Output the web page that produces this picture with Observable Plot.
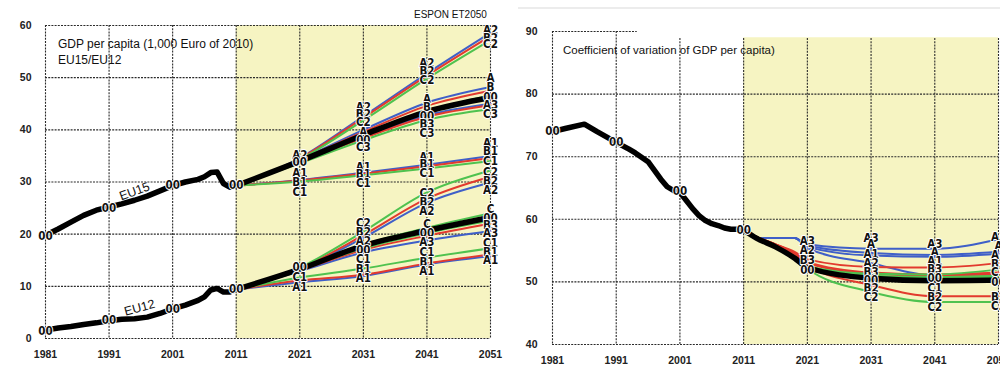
<!DOCTYPE html>
<html><head><meta charset="utf-8">
<script src="https://cdn.jsdelivr.net/npm/d3@7"></script>
<script src="https://cdn.jsdelivr.net/npm/@observablehq/plot@0.6"></script>
<style>
body{margin:0;background:#fff;overflow:hidden;font-family:"Liberation Sans",Arial,sans-serif}
#wrap{position:relative;width:1000px;height:367px;overflow:hidden;background:#fff}
#left,#right{position:absolute;top:0}
#left{left:0}#right{left:500px}
#left svg{overflow:visible}
.title{position:absolute;color:#111;white-space:nowrap}
</style></head><body>
<div id="wrap">
 <div id="left"></div><div id="right"></div>
 <div class="title" style="left:58px;top:36px;font-size:12px;line-height:16px">GDP per capita (1,000 Euro of 2010)<br>EU15/EU12</div>
 <div class="title" style="left:563px;top:44px;font-size:11.5px">Coefficient of variation of GDP per capita)</div>
 <div class="title" style="left:414px;top:9px;font-size:10px">ESPON ET2050</div>
 <div style="position:absolute;left:518px;top:7px;width:482px;height:2px;background:#ececec"></div>
</div>
<script>
// ---------- shared ----------
const decadeTicks = [1981, 1991, 2001, 2011, 2021, 2031, 2041, 2051];
const scenarioNames = ["A","B","C","A1","B1","C1","A2","B2","C2","A3","B3","C3"];

// ---------- left panel: GDP per capita ----------
const gdpTicks = [0, 10, 20, 30, 40, 50, 60];
const histYearsGdp = [1981,1983,1985,1987,1989,1991,1993,1995,1997,1999,2001,2003,2005,2006,2007,2008,2009,2010,2011];
const eu15Hist = [19.8,21.0,22.3,23.6,24.6,25.2,25.8,26.5,27.3,28.3,29.3,30.0,30.5,31.0,31.8,31.9,29.7,29.0,29.3];
const eu12Hist = [1.6,2.0,2.3,2.7,3.0,3.4,3.7,3.8,4.1,4.8,5.7,6.4,7.3,8.0,9.3,9.6,8.9,8.9,9.4];
const projYearsGdp = [2011, 2021, 2031, 2041, 2051];
const eu15Base = [29.3, 34.0, 39.0, 43.5, 46.2];
const eu12Base = [9.4, 13.3, 17.8, 20.7, 23.2];
// same order as scenarioNames
const eu15Proj = [
  [29.3, 34.3, 40.0, 45.2, 48.2], // A
  [29.3, 34.2, 39.6, 44.6, 47.5], // B
  [29.3, 34.0, 39.0, 43.6, 46.6], // C
  [29.3, 30.4, 31.8, 33.3, 35.0], // A1
  [29.3, 30.3, 31.6, 33.0, 34.6], // B1
  [29.3, 30.1, 31.3, 32.6, 34.0], // C1
  [29.3, 34.6, 42.6, 50.8, 58.6], // A2
  [29.3, 34.5, 42.3, 50.4, 58.0], // B2
  [29.3, 34.3, 41.8, 49.8, 57.2], // C2
  [29.3, 33.9, 38.6, 42.8, 45.0], // A3
  [29.3, 33.8, 38.4, 42.5, 44.7], // B3
  [29.3, 33.6, 38.0, 41.9, 44.0]  // C3
];
const eu12Proj = [
  [9.4, 13.2, 17.6, 20.5, 22.8], // A
  [9.4, 13.3, 17.8, 20.9, 23.5], // B
  [9.4, 13.4, 18.0, 21.2, 24.0], // C
  [9.4, 10.8, 12.0, 14.2, 15.8], // A1
  [9.4, 11.1, 12.2, 14.4, 16.1], // B1
  [9.4, 11.7, 13.4, 15.5, 17.3], // C1
  [9.4, 13.3, 19.3, 26.0, 29.9], // A2
  [9.4, 13.4, 19.8, 26.8, 31.0], // B2
  [9.4, 13.6, 20.5, 28.0, 32.2], // C2
  [9.4, 12.9, 16.5, 18.8, 20.6], // A3
  [9.4, 13.1, 17.0, 19.7, 22.0], // B3
  [9.4, 13.2, 17.3, 20.2, 22.6]  // C3
];
const gdpLabels = [
  [1981,"00",19.6],[1991,"00",25.0],[2001,"00",29.3],[2011,"00",29.3],
  [1981,"00",1.4],[1991,"00",3.4],[2001,"00",5.6],[2011,"00",9.4],
  [2021,"A2",35.1],[2021,"00",33.7],[2021,"A1",31.6],[2021,"B1",29.9],[2021,"C1",28.1],
  [2021,"00",13.6],[2021,"C1",11.7],[2021,"A1",9.8],
  [2031,"A2",44.3],[2031,"B2",43.0],[2031,"C2",41.5],[2031,"A",39.5],[2031,"00",38.0],[2031,"C3",36.6],
  [2031,"A1",32.8],[2031,"B1",31.4],[2031,"C1",29.8],
  [2031,"C2",22.0],[2031,"B2",20.4],[2031,"A2",18.7],[2031,"00",16.9],[2031,"C1",15.1],[2031,"B1",13.3],[2031,"A1",11.5],
  [2041,"A2",52.7],[2041,"B2",51.2],[2041,"C2",49.5],[2041,"A",45.9],[2041,"B",44.3],[2041,"00",42.6],[2041,"B3",41.0],[2041,"C3",39.4],
  [2041,"A1",34.8],[2041,"B1",33.4],[2041,"C1",31.7],
  [2041,"C2",27.8],[2041,"B2",26.1],[2041,"A2",24.3],[2041,"C",21.8],[2041,"00",20.2],[2041,"A3",18.5],[2041,"C1",16.6],[2041,"B1",14.7],[2041,"A1",12.8],
  [2051,"A2",59.0],[2051,"B2",57.6],[2051,"C2",56.3],[2051,"A",49.8],[2051,"B",48.1],[2051,"00",46.3],[2051,"A3",44.7],[2051,"C3",43.0],
  [2051,"A1",37.4],[2051,"B1",35.8],[2051,"C1",34.0],[2051,"C2",31.9],[2051,"B2",30.2],[2051,"A2",28.5],
  [2051,"C",24.8],[2051,"00",23.1],[2051,"B3",21.7],[2051,"A3",20.1],[2051,"C1",18.3],[2051,"B1",16.6],[2051,"A1",14.9]
];
const regionNames = ["EU15", "EU12"];

// ---------- right panel: coefficient of variation ----------
const cvTicks = [40, 50, 60, 70, 80, 90];
const histYearsCv = [1981,1983,1986,1988,1991,1993,1994,1996,1997,1998,1999,2000,2001,2002,2003,2004,2005,2006,2007,2008,2009,2010,2011];
const cvHist = [74.0,74.5,75.2,74.0,72.3,71.2,70.6,69.2,67.8,66.4,65.2,64.6,64.3,63.0,61.7,60.6,59.8,59.3,59.0,58.6,58.4,58.4,58.3];
const projYearsCv = [2011, 2013, 2016, 2019, 2021, 2031, 2041, 2051];
const cvBase = [58.3, 57.0, 55.6, 53.8, 52.3, 50.6, 50.2, 50.3];
const cvProj = [
  [58.3, 57.0, 57.0, 57.0, 55.8, 54.6, 54.3, 54.8], // A
  [58.3, 57.2, 56.0, 54.6, 53.2, 51.5, 51.2, 51.5], // B
  [58.3, 57.0, 55.6, 53.8, 52.4, 51.0, 50.8, 51.0], // C
  [58.3, 57.0, 57.0, 57.0, 55.6, 54.2, 54.0, 54.5], // A1
  [58.3, 57.2, 56.0, 54.5, 53.0, 51.3, 51.0, 51.2], // B1
  [58.3, 57.0, 55.6, 53.8, 52.3, 50.8, 50.6, 50.8], // C1
  [58.3, 57.0, 57.0, 57.0, 55.4, 53.0, 51.0, 51.3], // A2
  [58.3, 57.2, 55.8, 54.2, 52.6, 49.5, 47.7, 47.7], // B2
  [58.3, 57.0, 55.6, 53.8, 52.1, 48.4, 46.8, 46.8], // C2
  [58.3, 57.0, 57.0, 57.0, 56.0, 55.3, 55.3, 56.8], // A3
  [58.3, 57.2, 56.0, 54.8, 53.6, 52.4, 52.3, 53.0], // B3
  [58.3, 57.0, 55.6, 53.9, 52.5, 51.3, 51.2, 52.0]  // C3
];
const cvLabels = [
  [1981,"00",74.0],[1991,"00",72.3],[2001,"00",64.4],[2011,"00",58.3],
  [2021,"A3",56.5],[2021,"A2",55.1],[2021,"B3",53.4],[2021,"00",51.9],
  [2031,"A3",57.0],[2031,"A",56.0],[2031,"A1",54.4],[2031,"A2",53.0],[2031,"B3",51.6],[2031,"00",50.3],[2031,"B2",49.0],[2031,"C2",47.5],
  [2041,"A3",56.0],[2041,"A",54.8],[2041,"A1",53.3],[2041,"B3",52.0],[2041,"00",50.5],[2041,"C1",49.0],[2041,"B2",47.5],[2041,"C2",46.0],
  [2051,"A3",57.2],[2051,"A",55.7],[2051,"A1",54.2],[2051,"B3",52.8],[2051,"C3",51.6],[2051,"00",50.0],[2051,"B2",47.6],[2051,"C2",46.1]
];

// ---------- styles ----------
const familyColor = {A: "#3f5fc8", B: "#e23a2e", C: "#4fc24f"};
const shade = "#f6f4c2";
const gridStyle = {stroke: "#2a2a2a", strokeWidth: 1.1, strokeDasharray: "2,1.2"};
const labelFont = "'DejaVu Sans Condensed','Liberation Sans Narrow','Liberation Sans',sans-serif";

function tidyProj(years, matrix, region) {
  const rows = [];
  scenarioNames.forEach((s, i) => years.forEach((yr, j) => rows.push({region, scen: s, year: yr, value: matrix[i][j]})));
  return rows;
}
function series(years, values, region) {
  return years.map((yr, j) => ({region, year: yr, value: values[j]}));
}
function labelRows(arr) { return arr.map(([year, text, value]) => ({year, text, value})); }

function scenarioLines(rows) {
  return ["A","B","C"].map(f => Plot.line(rows.filter(d => d.scen[0] === f), {
    x: "year", y: "value", z: d => d.region + d.scen, stroke: familyColor[f],
    strokeWidth: 2, curve: "monotone-x"
  }));
}
function axes(yTicks, padY) {
  return [
    Plot.axisX(decadeTicks, {tickSize: 0, tickPadding: 12, label: null, tickFormat: d => String(d),
      fontSize: 10.5, fontWeight: "bold", fill: "#222"}),
    Plot.axisY(yTicks, {tickSize: 0, tickPadding: padY, label: null,
      fontSize: 10.5, fontWeight: "bold", fill: "#222"})
  ];
}
function textLabels(arr) {
  return Plot.text(labelRows(arr), {x: "year", y: "value", text: "text", fontSize: 11.5,
    fontFamily: labelFont, fontWeight: "bold", fill: "#111", stroke: "white", strokeWidth: 1.8, paintOrder: "stroke"});
}

// left
const gdpProjRows = [...tidyProj(projYearsGdp, eu15Proj, regionNames[0]), ...tidyProj(projYearsGdp, eu12Proj, regionNames[1])];
const gdpHistRows = [...series(histYearsGdp, eu15Hist, regionNames[0]), ...series(histYearsGdp, eu12Hist, regionNames[1])];
const gdpBaseRows = [...series(projYearsGdp, eu15Base, regionNames[0]), ...series(projYearsGdp, eu12Base, regionNames[1])];

const left = Plot.plot({
  width: 500, height: 367, marginLeft: 45, marginRight: 10, marginTop: 25, marginBottom: 29,
  x: {domain: [decadeTicks[0], decadeTicks.at(-1)]},
  y: {domain: [gdpTicks[0], gdpTicks.at(-1)]},
  style: {fontFamily: "'Liberation Sans',Arial,sans-serif", background: "white", overflow: "visible"},
  marks: [
    Plot.rect([0], {x1: projYearsGdp[0], x2: projYearsGdp.at(-1), y1: gdpTicks[0], y2: gdpTicks.at(-1), fill: shade}),
    Plot.ruleX(decadeTicks, {...gridStyle}),
    Plot.ruleY(gdpTicks, {...gridStyle}),
    ...scenarioLines(gdpProjRows),
    Plot.line(gdpHistRows, {x: "year", y: "value", z: "region", stroke: "#000", strokeWidth: 5.5, strokeLinejoin: "round", strokeLinecap: "round"}),
    Plot.line(gdpBaseRows, {x: "year", y: "value", z: "region", stroke: "#000", strokeWidth: 5.5, curve: "monotone-x", strokeLinecap: "round"}),
    textLabels(gdpLabels),
    Plot.text([regionNames[0]], {x: 1995, y: 28.2, text: d => d, rotate: -20, fontSize: 12.5, fill: "#111"}),
    Plot.text([regionNames[1]], {x: 1995.8, y: 5.9, text: d => d, rotate: -15, fontSize: 12.5, fill: "#111"}),
    ...axes(gdpTicks, 14)
  ]
});
document.getElementById("left").append(left);

// right
const cvProjRows = tidyProj(projYearsCv, cvProj, "EU");
const right = Plot.plot({
  width: 500, height: 367, marginLeft: 52, marginRight: 2, marginTop: 31, marginBottom: 23,
  x: {domain: [decadeTicks[0], decadeTicks.at(-1)]},
  y: {domain: [cvTicks[0], cvTicks.at(-1)]},
  style: {fontFamily: "'Liberation Sans',Arial,sans-serif", background: "transparent"},
  marks: [
    Plot.rect([0], {x1: projYearsCv[0], x2: projYearsCv.at(-1), y1: cvTicks[0], y2: 89, fill: shade}),
    Plot.ruleX(decadeTicks.filter(d => d < 2001), {...gridStyle}),
    Plot.ruleX(decadeTicks.filter(d => d >= 2001), {...gridStyle, y1: cvTicks[0], y2: 89}),
    Plot.ruleY(cvTicks.filter(d => d < 90), {...gridStyle}),
    Plot.ruleY([cvTicks.at(-1)], {...gridStyle, x1: decadeTicks[0], x2: 1994.3}),
    ...scenarioLines(cvProjRows),
    Plot.line(series(histYearsCv, cvHist, "EU"), {x: "year", y: "value", stroke: "#000", strokeWidth: 5.5, strokeLinejoin: "round", strokeLinecap: "round"}),
    Plot.line(series(projYearsCv, cvBase, "EU"), {x: "year", y: "value", stroke: "#000", strokeWidth: 5.5, curve: "monotone-x", strokeLinecap: "round"}),
    textLabels(cvLabels),
    ...axes(cvTicks, 15)
  ]
});
document.getElementById("right").append(right);
</script>
</body></html>
